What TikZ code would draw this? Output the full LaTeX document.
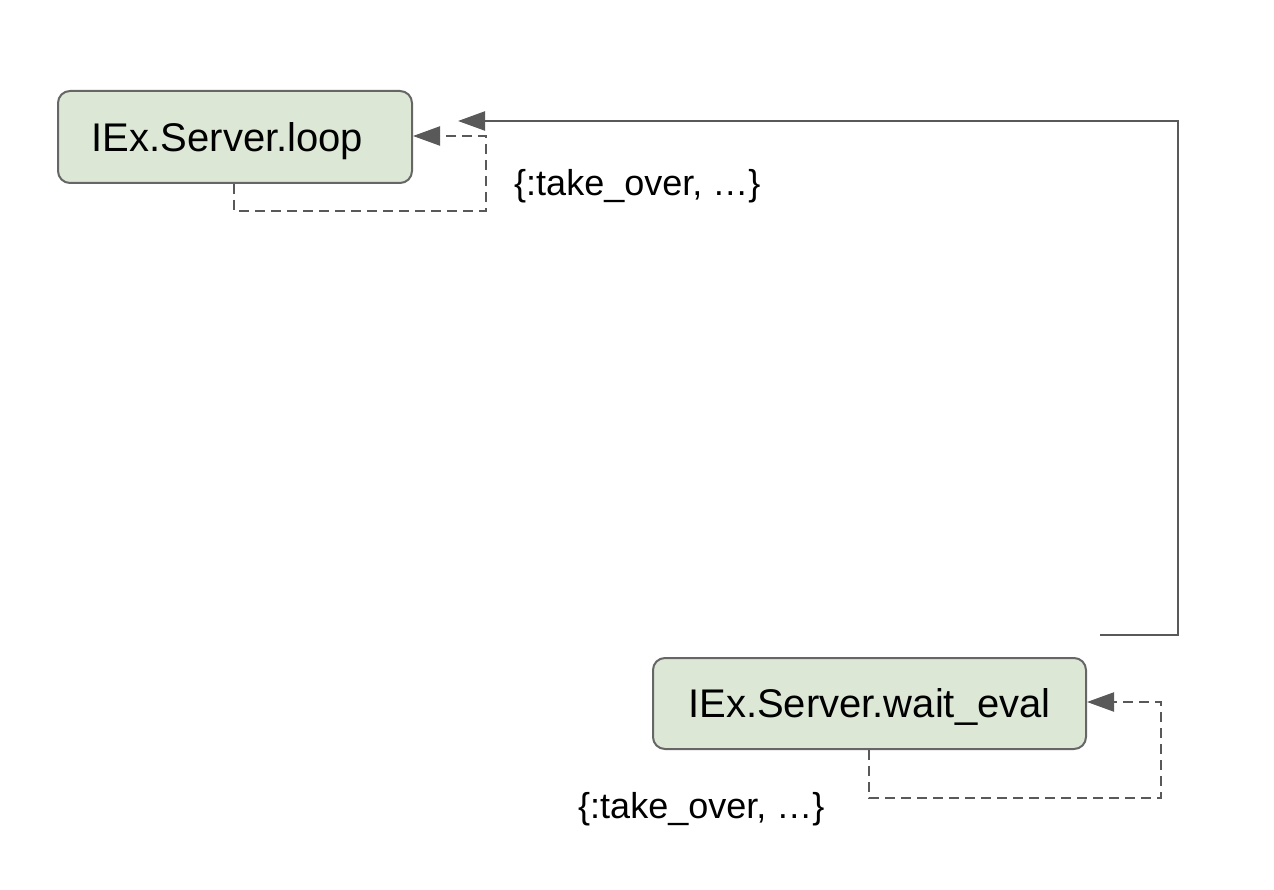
\documentclass[tikz,border=0pt]{standalone}
\usepackage{fontspec}
\setmainfont{Liberation Sans}
\usetikzlibrary{arrows.meta}
\definecolor{boxfill}{HTML}{DCE8D5}
\definecolor{boxline}{HTML}{666666}
\definecolor{conn}{HTML}{595959}
\tikzset{
  state/.style={draw=boxline, line width=2pt, fill=boxfill, rounded corners=12pt, anchor=north west, inner sep=0pt, font=\fontsize{40}{48}\selectfont},
  lbl/.style={font=\fontsize{36}{43}\selectfont, inner sep=0pt},
  solidarr/.style={draw=conn, line width=2.2pt, -{Triangle[length=27pt,width=19pt]}},
  dasharr/.style={draw=conn, line width=2.2pt, dash pattern=on 10pt off 6pt, -{Triangle[length=27pt,width=19pt]}},
}
\begin{document}
\begin{tikzpicture}[x=1pt,y=-1pt]
\useasboundingbox (0,0) rectangle (1274,890);
\node[state, minimum width=354pt, minimum height=92pt] (loop) at (57,90) {\hspace*{-15pt}\raisebox{-4pt}[\height][\depth]{IEx.Server.loop}};
\node[state, minimum width=433pt, minimum height=91pt] (wait) at (652,657) {\raisebox{-3pt}[\height][\depth]{IEx.Server.wait\_eval}};
\coordinate (start) at (1100,635);
\coordinate (tip) at (458,121);
\draw[solidarr] (start) -- (1178,635) -- (1178,121) -- (tip);
\draw[dasharr] (loop.south west -| 234,0) -- (234,211) -- (486,211) -- (486,136) -- (loop.east |- 0,136);
\draw[dasharr] (wait.south west -| 869,0) -- (869,798) -- (1161,798) -- (1161,702) -- (wait.east |- 0,702);
\node[lbl, anchor=west] (l1) at (514,186) {\{:take\_over, …\}};
\node[lbl, anchor=west] (l2) at (578,809) {\{:take\_over, …\}};
\end{tikzpicture}
\end{document}
